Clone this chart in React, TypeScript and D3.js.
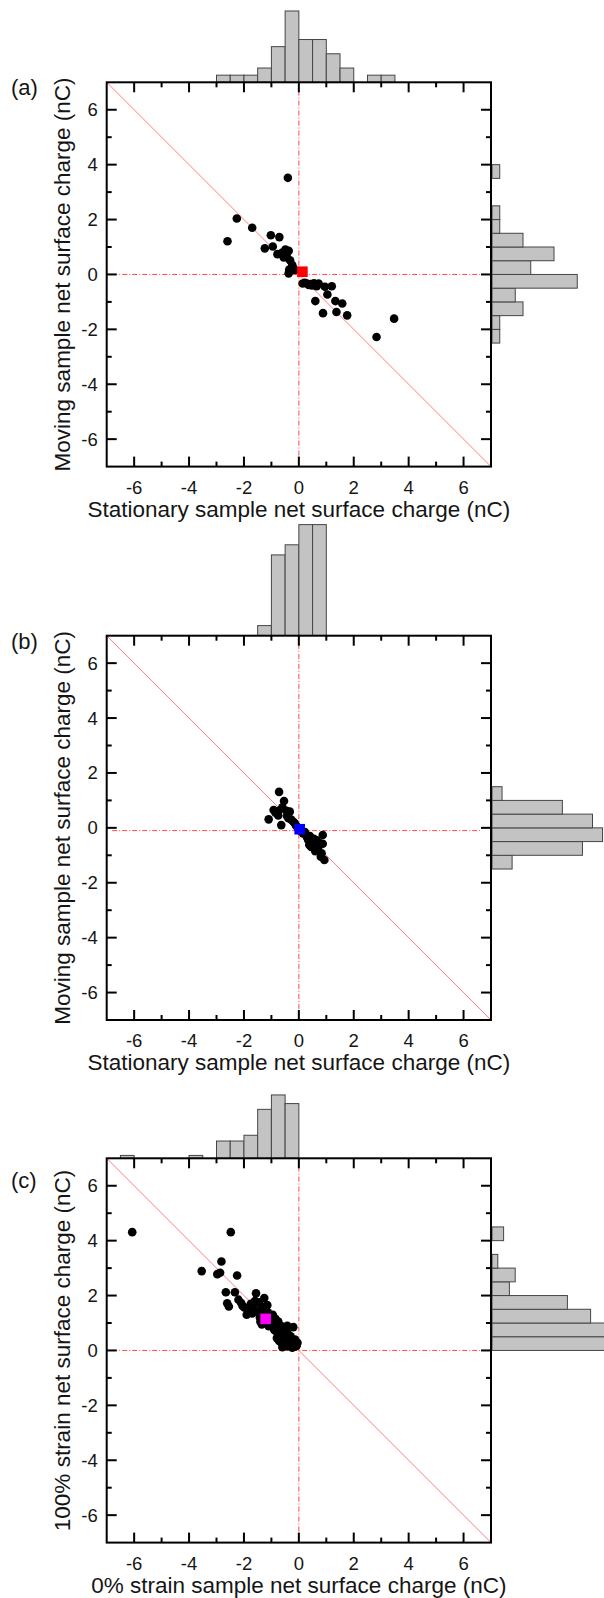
import React from 'react';
import * as d3 from 'd3';

// ---------- data ----------
const xTicksMajor = [-6, -4, -2, 0, 2, 4, 6];
const xTicksMinor = [-5, -3, -1, 1, 3, 5];
const binWidth = 0.5;

// Panel (a)
const aStationary = [-2.6, -2.26, -1.7, -1.24, -1.02, -0.95, -0.78, -0.71, -0.6, -0.55, -0.49, -0.4, -0.37, -0.44, -0.32, -0.24, -0.2, -0.35, -0.37, -0.15,
  0.14, 0.22, 0.29, 0.36, 0.43, 0.48, 0.55, 0.6, 0.65, 0.72, 0.88, 0.95, 1.04, 1.2, 1.33, 1.37, 1.58, 1.76, 2.83, 3.47];
const aMoving = [1.21, 2.04, 1.7, 0.95, 1.43, 1.02, 0.74, 1.36, 0.8, 0.62, 0.91, 3.52, 0.86, 0.64, 0.52, 0.34, 0.22, 0.18, 0.04, 0.16,
  -0.33, -0.3, -0.33, -0.38, -0.35, -0.4, -0.32, -0.97, -0.43, -0.33, -1.41, -0.45, -0.73, -0.43, -0.97, -1.37, -1.06, -1.49, -2.28, -1.61];
const aMean = [0.13, 0.1];
const aTopStart = -3;
const aTopCounts = [1, 1, 1, 2, 5, 10, 6, 6, 4, 2, 0, 1, 1];
const aRightStart = -2.5;
const aRightCounts = [1, 1, 4, 3, 11, 5, 8, 4, 1, 1, 0, 0, 1];

// Panel (b)
const bStationary = [-1.1, -0.72, -0.54, -0.92, -0.85, -0.73, -0.75, -0.64, -0.6, -0.43, -0.33, -0.45, -0.15, -0.2, -0.38, -0.1, -0.28, -0.05,
  0.05, 0.15, 0.27, 0.34, 0.48, 0.3, 0.4, 0.22, 0.45, 0.38, 0.42, 0.62, 0.87, 0.87, 0.83, 0.93, 0.8, 0.55, 0.6, 0.7, 0.65, 0.75];
const bMoving = [0.31, 1.31, 0.98, 0.65, 0.55, 0.62, 0.45, 0.1, 0.75, 0.43, 0.59, 0.62, 0.17, 0.22, 0.35, 0.08, 0.3, 0.02,
  -0.1, -0.2, -0.26, -0.44, -0.56, -0.35, -0.3, -0.15, -0.7, -0.62, -0.48, -0.68, -0.26, -0.58, -0.93, -1.17, -1.05, -0.4, -0.85, -0.75, -0.45, -0.55];
const bMean = [0.03, -0.05];
const bTopStart = -1.5;
const bTopCounts = [1, 8, 9, 11, 11];
const bRightStart = -1.5;
const bRightCounts = [2, 9, 11, 10, 7, 1];

// Panel (c)
const cStrain0 = [-6.07, -3.54, -2.82, -2.97, -2.87, -2.66, -2.61, -2.55, -2.48, -2.25, -2.33, -2.1, -2.2, -2.05,
  -1.56, -1.99, -1.86, -1.75, -1.65, -1.9, -1.7, -1.6,
  -1.26, -1.45, -1.35, -1.15, -1.48, -1.42, -1.38, -1.3, -1.28, -1.22, -1.18, -1.12, -1.08, -1.03, -1.4, -1.35, -1.1,
  -0.95, -0.85, -0.75, -0.98, -0.92, -0.9, -0.86, -0.82, -0.78, -0.74, -0.7, -0.66, -0.62, -0.58, -0.55, -0.52,
  -0.8, -0.72, -0.65, -0.6, -0.56, -0.52,
  -0.45, -0.38, -0.3, -0.2, -0.42,
  -0.48, -0.44, -0.4, -0.36, -0.33, -0.3, -0.27, -0.24, -0.2, -0.17, -0.14, -0.11, -0.08, -0.05];
const cStrain100 = [4.31, 2.89, 3.24, 2.78, 2.83, 2.12, 1.72, 1.6, 4.31, 2.73, 2.12, 1.73, 1.85, 1.62,
  2.08, 1.57, 1.45, 1.7, 1.55, 1.3, 1.35, 1.8,
  1.91, 1.75, 1.6, 1.65, 1.4, 1.2, 1.35, 1.1, 1.45, 1.25, 1.05, 1.38, 1.2, 1.02, 1.05, 0.95, 0.88,
  1.3, 1.15, 1.05, 0.95, 0.85, 0.75, 0.98, 0.68, 0.9, 0.8, 0.6, 0.72, 0.88, 0.55, 0.78, 0.65,
  0.45, 0.35, 0.3, 0.12, 0.42, 0.22,
  0.7, 0.58, 0.52, 0.85, 0.9,
  0.4, 0.28, 0.15, 0.45, 0.32, 0.2, 0.38, 0.1, 0.3, 0.22, 0.4, 0.15, 0.18, 0.28];
const cMean = [-1.21, 1.15];
const cTopStart = -6.5;
const cTopCounts = [1, 0, 0, 0, 0, 1, 0, 6, 6, 8, 17, 22, 19];
const cRightStart = 0;
const cRightCounts = [20, 20, 17, 13, 3, 4, 1, 0, 2];

// ---------- layout ----------
const W = 604;
const H = 1598;
const PL = 106.7;
const PS = 384.3;
const FONT = '"Liberation Sans", Arial, Helvetica, sans-serif';
const TEXT = '#151515';

type PanelProps = {
  top: number;
  xs: number[];
  ys: number[];
  mean: number[];
  meanColor: string;
  topStart: number;
  topCounts: number[];
  topUnit: number;
  rightStart: number;
  rightCounts: number[];
  rightUnit: number;
  hLine: number;
  vLine: number;
  xTitle: string;
  yTitle: string;
  label: string;
  labelDy: number;
};

function Panel(p: PanelProps) {
  const x = d3.scaleLinear().domain([-7, 7]).range([PL, PL + PS]);
  const y = d3.scaleLinear().domain([-7, 7]).range([p.top + PS, p.top]);
  const right = PL + PS;
  const bottom = p.top + PS;
  const topH = d3.scaleLinear().domain([0, 1]).range([0, p.topUnit]);
  const rightW = d3.scaleLinear().domain([0, 1]).range([0, p.rightUnit]);
  const histFill = '#c3c3c3';
  const histStroke = '#454545';
  const refStyle = { stroke: '#ff2a2a', strokeWidth: 1, strokeDasharray: '5,2,1,2', opacity: 0.85 };
  return (
    <g>
      {/* top histogram */}
      {p.topCounts.map((c, i) => {
        if (!c) return null;
        const x0 = x(p.topStart + i * binWidth);
        const x1 = x(p.topStart + (i + 1) * binWidth);
        return <rect key={'t' + i} x={x0} y={p.top - topH(c)} width={x1 - x0} height={topH(c)} fill={histFill} stroke={histStroke} strokeWidth={1} />;
      })}
      {/* right histogram */}
      {p.rightCounts.map((c, i) => {
        if (!c) return null;
        const y1 = y(p.rightStart + i * binWidth);
        const y0 = y(p.rightStart + (i + 1) * binWidth);
        return <rect key={'r' + i} x={right + 1} y={y0} width={rightW(c)} height={y1 - y0} fill={histFill} stroke={histStroke} strokeWidth={1} />;
      })}
      <rect x={PL} y={p.top} width={PS} height={PS} fill="#fff" />
      {/* reference lines */}
      <line x1={x(-6.8)} x2={x(6.6)} y1={y(p.hLine)} y2={y(p.hLine)} {...refStyle} />
      <line x1={x(p.vLine)} x2={x(p.vLine)} y1={y(6.7)} y2={y(-6.6)} {...refStyle} />
      <line x1={x(-7)} y1={y(7)} x2={x(7)} y2={y(-7)} stroke="#ff8080" strokeWidth={1} />
      {/* points */}
      {p.xs.map((v, i) => (
        <circle key={'p' + i} cx={x(v)} cy={y(p.ys[i])} r={4.3} fill="#000" />
      ))}
      <rect x={x(p.mean[0]) - 5.3} y={y(p.mean[1]) - 5.3} width={10.6} height={10.6} fill={p.meanColor} />
      {/* frame */}
      <rect x={PL} y={p.top} width={PS} height={PS} fill="none" stroke="#000" strokeWidth={2} />
      {/* ticks */}
      {xTicksMajor.map((t) => (
        <g key={'M' + t}>
          <line x1={x(t)} x2={x(t)} y1={bottom} y2={bottom - 10} stroke="#000" strokeWidth={2} />
          <line x1={x(t)} x2={x(t)} y1={p.top} y2={p.top + 10} stroke="#000" strokeWidth={2} />
          <line x1={PL} x2={PL + 10} y1={y(t)} y2={y(t)} stroke="#000" strokeWidth={2} />
          <line x1={right} x2={right - 10} y1={y(t)} y2={y(t)} stroke="#000" strokeWidth={2} />
          <text x={x(t)} y={bottom + 27} textAnchor="middle" fontSize={18.5} fontFamily={FONT} fill={TEXT}>{String(t)}</text>
          <text x={PL - 9} y={y(t) + 6.5} textAnchor="end" fontSize={18.5} fontFamily={FONT} fill={TEXT}>{String(t)}</text>
        </g>
      ))}
      {xTicksMinor.map((t) => (
        <g key={'m' + t}>
          <line x1={x(t)} x2={x(t)} y1={bottom} y2={bottom - 5} stroke="#000" strokeWidth={2} />
          <line x1={x(t)} x2={x(t)} y1={p.top} y2={p.top + 5} stroke="#000" strokeWidth={2} />
          <line x1={PL} x2={PL + 5} y1={y(t)} y2={y(t)} stroke="#000" strokeWidth={2} />
          <line x1={right} x2={right - 5} y1={y(t)} y2={y(t)} stroke="#000" strokeWidth={2} />
        </g>
      ))}
      {/* titles */}
      <text x={PL + PS / 2} y={bottom + 50} textAnchor="middle" fontSize={22.5} fontFamily={FONT} fill={TEXT}>{p.xTitle}</text>
      <text transform={`translate(70,${p.top + PS / 2}) rotate(-90)`} textAnchor="middle" fontSize={22.5} fontFamily={FONT} fill={TEXT}>{p.yTitle}</text>
      <text x={11} y={p.top + p.labelDy} fontSize={22} fontFamily={FONT} fill={TEXT}>{p.label}</text>
    </g>
  );
}

export default function App() {
  return (
    <svg width={W} height={H} viewBox={`0 0 ${W} ${H}`} style={{ position: 'absolute', left: 0, top: 0, display: 'block', background: '#fff' }}>
      <rect x={0} y={0} width={W} height={H} fill="#fff" />
      <Panel top={82.3} xs={aStationary} ys={aMoving} mean={aMean} meanColor="#ff0000"
        topStart={aTopStart} topCounts={aTopCounts} topUnit={7.13}
        rightStart={aRightStart} rightCounts={aRightCounts} rightUnit={7.75}
        hLine={0} vLine={0}
        xTitle="Stationary sample net surface charge (nC)" yTitle="Moving sample net surface charge (nC)" label="(a)" labelDy={13} />
      <Panel top={635.7} xs={bStationary} ys={bMoving} mean={bMean} meanColor="#0000ff"
        topStart={bTopStart} topCounts={bTopCounts} topUnit={10.1}
        rightStart={bRightStart} rightCounts={bRightCounts} rightUnit={10.05}
        hLine={-0.1} vLine={0}
        xTitle="Stationary sample net surface charge (nC)" yTitle="Moving sample net surface charge (nC)" label="(b)" labelDy={13} />
      <Panel top={1158.3} xs={cStrain0} ys={cStrain100} mean={cMean} meanColor="#ff00ff"
        topStart={cTopStart} topCounts={cTopCounts} topUnit={2.88}
        rightStart={cRightStart} rightCounts={cRightCounts} rightUnit={5.8}
        hLine={0} vLine={0}
        xTitle="0% strain sample net surface charge (nC)" yTitle="100% strain net surface charge (nC)" label="(c)" labelDy={30} />
    </svg>
  );
}
